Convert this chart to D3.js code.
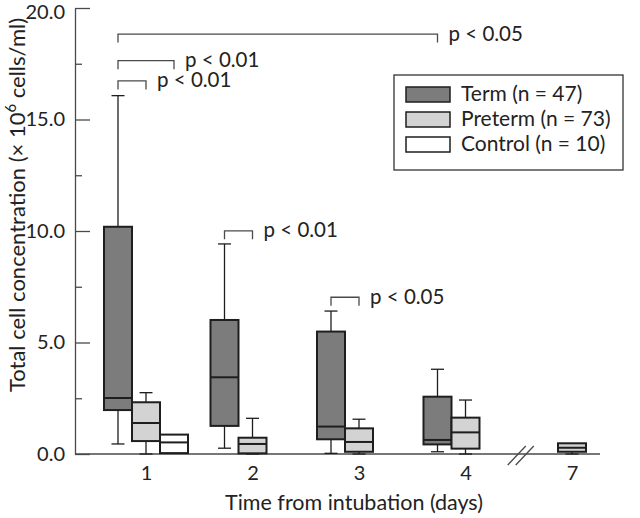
<!DOCTYPE html>
<html>
<head>
<meta charset="utf-8">
<script src="https://cdn.jsdelivr.net/npm/d3@7"></script>
<style>
  html, body { margin: 0; padding: 0; background: #fff; }
  svg { display: block; font-family: Lato, "Noto Sans", sans-serif; }
</style>
</head>
<body>
<svg id="chart" width="640" height="518"></svg>
<script>
// ---------------- data ----------------
const days = ["1", "2", "3", "4", "7"];
const groups = ["term", "preterm", "control"];
const groupLabels = ["Term (n = 47)", "Preterm (n = 73)", "Control (n = 10)"];
// [lower whisker, Q1, median, Q3, upper whisker] per day (null = no box)
const termStats = [
  [0.45, 1.97, 2.51, 10.19, 16.07],
  [0.26, 1.26, 3.44, 6.01, 9.42],
  [0.03, 0.66, 1.23, 5.49, 6.41],
  [0.10, 0.43, 0.63, 2.57, 3.80],
  null
];
const pretermStats = [
  [0.00, 0.58, 1.39, 2.32, 2.75],
  [0.00, 0.03, 0.45, 0.73, 1.60],
  [0.00, 0.10, 0.54, 1.15, 1.56],
  [0.00, 0.24, 0.97, 1.63, 2.42],
  [0.00, 0.10, 0.28, 0.48, 0.48]
];
const controlStats = [
  [0.04, 0.04, 0.52, 0.87, 0.87],
  null, null, null, null
];
const yTicks = [0, 5, 10, 15, 20];
const yMinorTicks = [2.5, 7.5, 12.5, 17.5];
// significance brackets: from [day, group] to [day, group], level (data units)
const sigFrom = [["1", "term"], ["1", "term"], ["1", "term"], ["2", "term"], ["3", "term"]];
const sigTo = [["4", "term"], ["1", "control"], ["1", "preterm"], ["2", "preterm"], ["3", "preterm"]];
const sigLevel = [18.83, 17.64, 16.73, 10.01, 7.03];
const sigLabel = ["p < 0.05", "p < 0.01", "p < 0.01", "p < 0.01", "p < 0.05"];

// ---------------- layout ----------------
const svg = d3.select("#chart");
const x0 = 75, yBase = 454, yTop = 8, xEnd = 600;
const y = d3.scaleLinear().domain([0, 20]).range([yBase, yTop]);
const xDay = d3.scalePoint().domain(days).range([146, 572]);
const boxW = 28;
const gOffset = d3.scalePoint().domain(groups).range([-boxW, boxW]);
const fills = { term: "#7c7c7c", preterm: "#d3d3d3", control: "#ffffff" };
const ink = "#1e1e1e";
const axisCol = "#4a4a4a";
const allStats = { term: termStats, preterm: pretermStats, control: controlStats };
const cx = (day, grp) => xDay(day) + gOffset(grp);

// y axis
const yAxis = d3.axisLeft(y).tickValues(yTicks).tickSizeInner(-15).tickSizeOuter(0)
  .tickPadding(10).tickFormat(d3.format(".1f"));
const gy = svg.append("g").attr("transform", `translate(${x0},0)`).call(yAxis);
gy.select(".domain").attr("stroke", axisCol).attr("stroke-width", 1.3);
gy.selectAll(".tick line").attr("stroke", axisCol).attr("stroke-width", 1.3);
gy.selectAll(".tick text").attr("font-size", 20).attr("fill", "#222")
  .attr("font-family", "Lato, sans-serif")
  .attr("dy", d => d === 20 ? "0.5em" : "0.32em");
const yMinor = d3.axisLeft(y).tickValues(yMinorTicks).tickSizeInner(-7).tickSizeOuter(0).tickFormat("");
const gym = svg.append("g").attr("transform", `translate(${x0},0)`).call(yMinor);
gym.select(".domain").remove();
gym.selectAll(".tick line").attr("stroke", axisCol).attr("stroke-width", 1.3);

// x axis baseline
svg.append("line").attr("x1", x0).attr("x2", xEnd).attr("y1", yBase).attr("y2", yBase)
  .attr("stroke", axisCol).attr("stroke-width", 1.3);
const xAxis = d3.axisBottom(xDay).tickSize(0).tickPadding(12);
const gx = svg.append("g").attr("transform", `translate(0,${yBase})`).call(xAxis);
gx.select(".domain").remove();
gx.selectAll(".tick text").attr("font-size", 20).attr("fill", "#222")
  .attr("font-family", "Lato, sans-serif");

// axis break marks between day 4 and day 7
const bx = (xDay("4") + xDay("7")) / 2 + 2;
[-4, 4].forEach(dx => {
  svg.append("line").attr("x1", bx + dx - 9).attr("y1", yBase + 11)
    .attr("x2", bx + dx + 9).attr("y2", yBase - 8)
    .attr("stroke", axisCol).attr("stroke-width", 1.3);
});

// axis titles
svg.append("text").attr("x", 354).attr("y", 510).attr("text-anchor", "middle")
  .attr("font-size", 21.5).attr("fill", "#222").text("Time from intubation (days)");
const yl = svg.append("text").attr("transform", "translate(25,205) rotate(-90)")
  .attr("text-anchor", "middle").attr("font-size", 22).attr("fill", "#222");
yl.append("tspan").text("Total cell concentration (× 10");
yl.append("tspan").attr("dy", -9).attr("font-size", 15).text("6");
yl.append("tspan").attr("dy", 9).text(" cells/ml)");

// boxes
groups.forEach(grp => {
  allStats[grp].forEach((s, i) => {
    if (!s) return;
    const c = cx(days[i], grp);
    const g = svg.append("g");
    const [lo, q1, med, q3, hi] = s;
    const cap = 6.5;
    if (hi > q3) {
      g.append("line").attr("x1", c).attr("x2", c).attr("y1", y(q3)).attr("y2", y(hi)).attr("stroke", ink).attr("stroke-width", 1.3);
      g.append("line").attr("x1", c - cap).attr("x2", c + cap).attr("y1", y(hi)).attr("y2", y(hi)).attr("stroke", ink).attr("stroke-width", 1.3);
    }
    if (lo < q1) {
      g.append("line").attr("x1", c).attr("x2", c).attr("y1", y(q1)).attr("y2", y(lo)).attr("stroke", ink).attr("stroke-width", 1.3);
      g.append("line").attr("x1", c - cap).attr("x2", c + cap).attr("y1", y(lo)).attr("y2", y(lo)).attr("stroke", ink).attr("stroke-width", 1.3);
    }
    g.append("rect").attr("x", c - boxW / 2).attr("width", boxW)
      .attr("y", y(q3)).attr("height", y(q1) - y(q3))
      .attr("fill", fills[grp]).attr("stroke", ink).attr("stroke-width", 2);
    g.append("line").attr("x1", c - boxW / 2).attr("x2", c + boxW / 2)
      .attr("y1", y(med)).attr("y2", y(med)).attr("stroke", ink).attr("stroke-width", 2);
  });
});

// significance brackets
sigLevel.forEach((lv, i) => {
  const xa = cx(sigFrom[i][0], sigFrom[i][1]);
  const xb = cx(sigTo[i][0], sigTo[i][1]);
  const yy = y(lv);
  const drop = 8.5;
  svg.append("path")
    .attr("d", `M${xa},${yy + drop}V${yy}H${xb}V${yy + drop}`)
    .attr("fill", "none").attr("stroke", axisCol).attr("stroke-width", 1.3);
  svg.append("text").attr("x", xb + 11).attr("y", yy + 6.5)
    .attr("font-size", 20.5).attr("fill", "#222").text(sigLabel[i]);
});

// legend
const lg = svg.append("g");
lg.append("rect").attr("x", 394).attr("y", 75).attr("width", 229).attr("height", 95)
  .attr("fill", "#fff").attr("stroke", "#333").attr("stroke-width", 1.3);
groups.forEach((grp, i) => {
  const ry = 87 + i * 25;
  lg.append("rect").attr("x", 406).attr("y", ry).attr("width", 44).attr("height", 15)
    .attr("fill", fills[grp]).attr("stroke", ink).attr("stroke-width", 1.5);
  lg.append("text").attr("x", 461).attr("y", ry + 14).attr("font-size", 21)
    .attr("fill", "#222").text(groupLabels[i]);
});
</script>
</body>
</html>
